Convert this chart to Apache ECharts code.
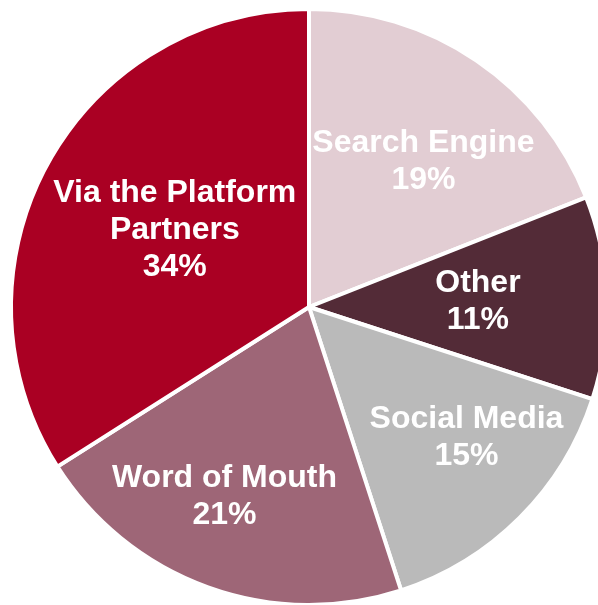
<!DOCTYPE html>
<html>
<head>
<meta charset="utf-8">
<script src="https://cdn.jsdelivr.net/npm/echarts@6/dist/echarts.min.js"></script>
<style>
html,body{margin:0;padding:0;background:#fff;}
#chart{width:598px;height:605px;}
</style>
</head>
<body>
<div id="chart"></div>
<script>
const categories = ['Search Engine', 'Other', 'Social Media', 'Word of Mouth', 'Via the Platform Partners'];
const shares = [19, 11, 15, 21, 34];

const colors = ['#E2CDD3', '#532B37', '#BABABA', '#9E6677', '#AA0023'];
const labelOffsets = [[29, -20], [17, -1], [50, 23], [-33, 47], [-1, -4]];

const chart = echarts.init(document.getElementById('chart'), null, {renderer: 'canvas'});
chart.setOption({
  animation: false,
  series: [{
    type: 'pie',
    center: [309, 307],
    radius: 298,
    startAngle: 90,
    clockwise: true,
    avoidLabelOverlap: false,
    itemStyle: {borderColor: '#ffffff', borderWidth: 4},
    labelLayout: {hideOverlap: false},
    label: {
      show: true,
      position: 'inside',
      color: '#ffffff',
      fontFamily: '"Liberation Sans", Arial, sans-serif',
      fontWeight: 'bold',
      fontSize: 32,
      lineHeight: 37,
      align: 'center',
      formatter: p => p.name.replace('Platform ', 'Platform\n') + '\n' + p.value + '%'
    },
    labelLine: {show: false},
    emphasis: {disabled: true},
    data: categories.map((c, i) => ({
      name: c,
      value: shares[i],
      itemStyle: {color: colors[i]},
      label: {offset: labelOffsets[i], color: '#ffffff'}
    }))
  }]
});
</script>
</body>
</html>
